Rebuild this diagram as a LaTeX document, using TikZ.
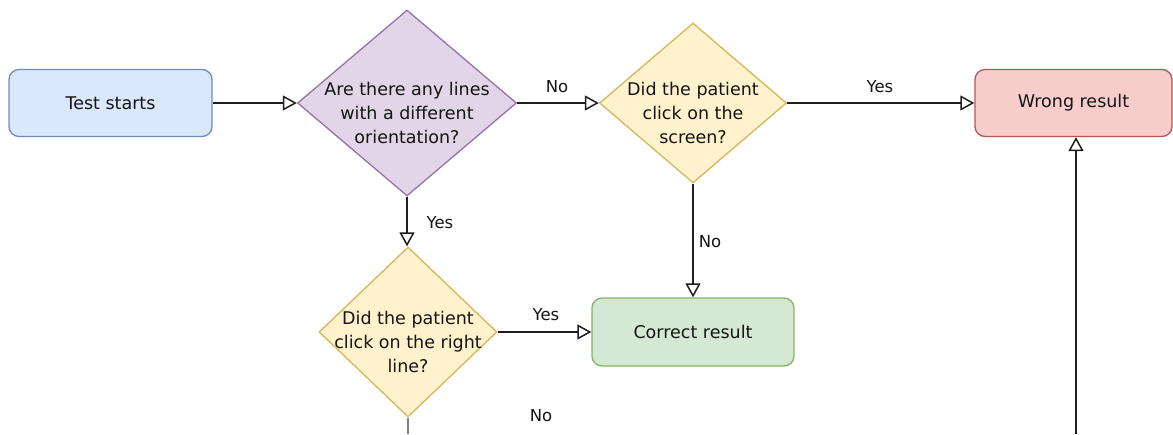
\documentclass[tikz,border=0pt]{standalone}
\usepackage{fontspec}
\setmainfont{DejaVu Sans}
\usetikzlibrary{shapes.geometric,arrows.meta}

\definecolor{txt}{HTML}{141414}
\definecolor{blueF}{HTML}{DAE8FC}\definecolor{blueS}{HTML}{6C8EBF}
\definecolor{purpF}{HTML}{E1D5E7}\definecolor{purpS}{HTML}{9673A6}
\definecolor{yelF}{HTML}{FFF2CC}\definecolor{yelS}{HTML}{D6B656}
\definecolor{redF}{HTML}{F8CECC}\definecolor{redS}{HTML}{B85450}
\definecolor{grnF}{HTML}{D5E8D4}\definecolor{grnS}{HTML}{82B366}
\definecolor{wire}{HTML}{1E1E1E}

\tikzset{
  nodefont/.style={font=\fontsize{17.5}{24}\selectfont, text=txt},
  box/.style={rectangle, rounded corners=10pt, minimum height=67pt,
    line width=1.3pt, inner sep=0pt, nodefont},
  decision/.style={diamond, inner sep=0pt, line width=1.3pt},
  decisiontext/.style={label={[nodefont, align=center, yshift=-10pt]center:#1}},
  conn/.style={line width=1.5pt, draw=wire,
    -{Triangle[open, length=14pt, width=15pt, line width=1.5pt]}},
  branch/.style={font=\fontsize{16.5}{20}\selectfont, text=txt, inner sep=0pt},
}

\begin{document}
\begin{tikzpicture}[x=1pt, y=-1pt]
\useasboundingbox (0,0) rectangle (1173,434);

% process boxes
\node[box, fill=blueF, draw=blueS, minimum width=203pt] (start) at (110.5,103) {Test starts};
\node[box, fill=redF, draw=redS, minimum width=197pt] (wrong) at (1073.5,103) {Wrong result};
\node[box, fill=grnF, draw=grnS, minimum width=202pt, minimum height=68pt] (correct) at (693,332) {Correct result};

% decisions
\node[decision, fill=purpF, draw=purpS, minimum width=219pt, minimum height=186pt,
  decisiontext={Are there any lines\\with a different\\orientation?}] (lines) at (407,103) {};
\node[decision, fill=yelF, draw=yelS, minimum width=187pt, minimum height=160pt,
  decisiontext={Did the patient\\click on the\\screen?}] (screen) at (693,103) {};
\node[decision, fill=yelF, draw=yelS, minimum width=178pt, minimum height=170pt,
  decisiontext={Did the patient\\click on the right\\line?}] (rightline) at (408,332) {};

% loose ends at the lower edge
\coordinate (wrongfeed) at (1076,434);
\coordinate (rightlineout) at (408,434);

% connectors
\draw[conn] (start.east) -- (lines.west);
\draw[conn] (lines.east) -- (screen.west);
\draw[conn] (screen.east) -- (wrong.west);
\draw[conn] (screen.south) -- (screen.south |- correct.north);
\draw[conn] (lines.south) -- (lines.south |- rightline.north);
\draw[conn] (rightline.east) -- (correct.west);
\draw[conn] (wrongfeed) -- (wrongfeed |- wrong.south);
\draw[line width=1.5pt, draw=gray] (rightline.south) -- (rightlineout);

% branch labels
\node[branch] (l1) at (557,87) {No};
\node[branch] (l2) at (880,87) {Yes};
\node[branch] (l3) at (710,242) {No};
\node[branch] (l4) at (440,223) {Yes};
\node[branch] (l5) at (546,315) {Yes};
\node[branch] (l6) at (541,416) {No};
\end{tikzpicture}
\end{document}
